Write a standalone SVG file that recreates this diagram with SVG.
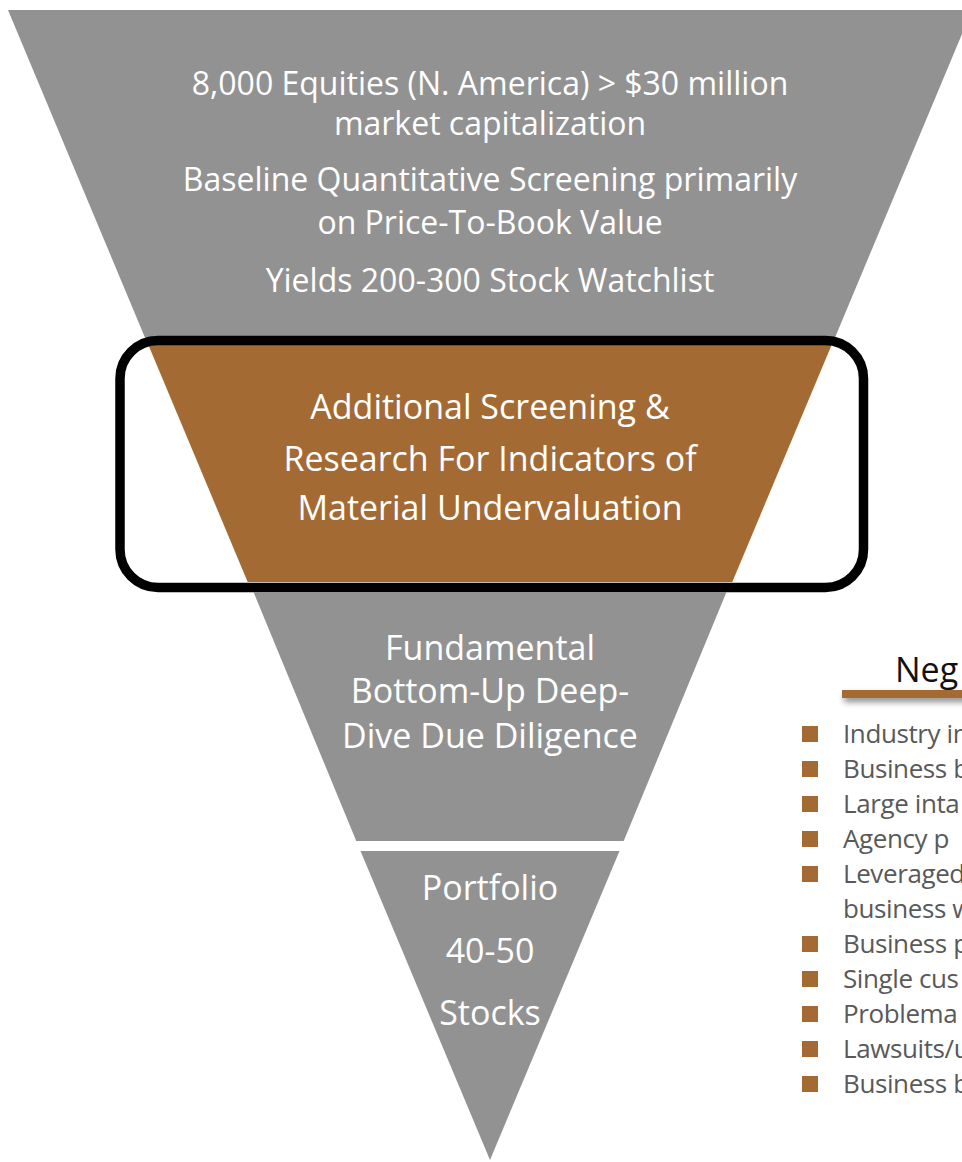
<svg xmlns="http://www.w3.org/2000/svg" width="962" height="1162" viewBox="0 0 962 1162">
<defs>
<style>
.grey{fill:#929292}
.brown{fill:#A46A33}
.wt{fill:#ffffff;font-family:"Open Sans","Noto Sans","Liberation Sans",sans-serif;text-anchor:middle}
.t1{font-size:32px}
.t2{font-size:34px}
.bul{fill:#595959;font-family:"Open Sans","Noto Sans","Liberation Sans",sans-serif;font-size:26px;letter-spacing:-0.4px}
.sq{fill:#A46A33}
</style>
<filter id="sh" x="-10%" y="-100%" width="130%" height="400%">
<feDropShadow dx="2" dy="4" stdDeviation="3" flood-color="#000" flood-opacity="0.45"/>
</filter>
</defs>
<g id="stage1">
<polygon class="grey" points="8,10 972,10 834,340 146,340"/>
<text class="wt t1" x="490" y="95">8,000 Equities (N. America) &gt; $30 million</text>
<text class="wt t1" x="490" y="135">market capitalization</text>
<text class="wt t1" x="490" y="191">Baseline Quantitative Screening primarily</text>
<text class="wt t1" x="490" y="234">on Price-To-Book Value</text>
<text class="wt t1" x="490" y="292">Yields 200-300 Stock Watchlist</text>
</g>
<g id="stage2">
<polygon class="brown" points="148.4,345 831.6,345 732.3,582 247.7,582"/>
<text class="wt t2" x="490" y="419">Additional Screening &amp;</text>
<text class="wt t2" x="490" y="471">Research For Indicators of</text>
<text class="wt t2" x="490" y="520">Material Undervaluation</text>
</g>
<g id="highlight">
<rect x="120" y="340.5" width="743.5" height="247" rx="38" ry="38" fill="none" stroke="#000" stroke-width="9.5"/>
</g>
<g id="stage3">
<polygon class="grey" points="253.5,592 726.5,592 623.7,841 356.3,841"/>
<text class="wt t2" x="490" y="660">Fundamental</text>
<text class="wt t2" x="490" y="703">Bottom-Up Deep-</text>
<text class="wt t2" x="490" y="748">Dive Due Diligence</text>
</g>
<g id="stage4">
<polygon class="grey" points="360.5,851 619.5,851 490,1160"/>
<text class="wt t2" x="490" y="900">Portfolio</text>
<text class="wt t2" x="490" y="963">40-50</text>
<text class="wt t2" x="490" y="1025">Stocks</text>
</g>
<g id="negatives">
<text x="895" y="682" font-family="'Open Sans','Noto Sans','Liberation Sans',sans-serif" font-size="34" fill="#111">Neg</text>
<rect x="842" y="690" width="130" height="8" class="brown" filter="url(#sh)"/>
<rect class="sq" x="802" y="726" width="16" height="16"/><text class="bul" x="843" y="743">Industry in</text>
<rect class="sq" x="802" y="761" width="16" height="16"/><text class="bul" x="843" y="778">Business b</text>
<rect class="sq" x="802" y="796" width="16" height="16"/><text class="bul" x="843" y="813">Large inta</text>
<rect class="sq" x="802" y="831" width="16" height="16"/><text class="bul" x="843" y="848">Agency p</text>
<rect class="sq" x="802" y="866" width="16" height="16"/><text class="bul" x="843" y="883">Leveraged</text>
<text class="bul" x="843" y="918">business w</text>
<rect class="sq" x="802" y="936" width="16" height="16"/><text class="bul" x="843" y="953">Business p</text>
<rect class="sq" x="802" y="971" width="16" height="16"/><text class="bul" x="843" y="988">Single cus</text>
<rect class="sq" x="802" y="1006" width="16" height="16"/><text class="bul" x="843" y="1023">Problema</text>
<rect class="sq" x="802" y="1041" width="16" height="16"/><text class="bul" x="843" y="1058">Lawsuits/u</text>
<rect class="sq" x="802" y="1076" width="16" height="16"/><text class="bul" x="843" y="1093">Business b</text>
</g>
<g id="connectors"/>
</svg>
